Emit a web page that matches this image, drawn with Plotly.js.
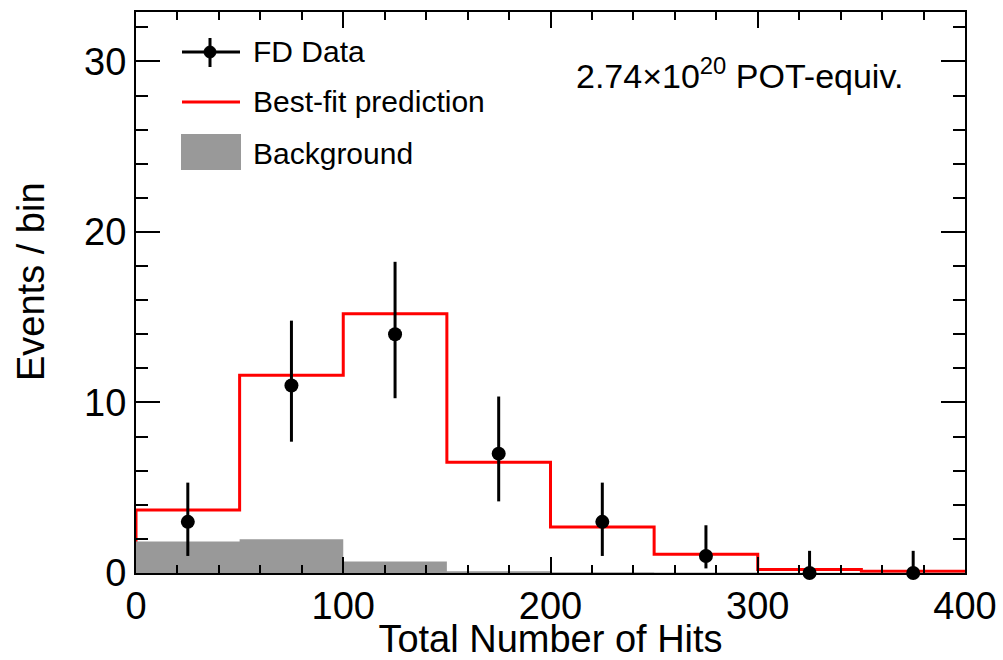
<!DOCTYPE html>
<html>
<head>
<meta charset="utf-8">
<script src="https://cdn.plot.ly/plotly-3.0.1.min.js"></script>
<style>html,body{margin:0;padding:0;background:#fff}#chart{width:1003px;height:660px}</style>
</head>
<body>
<div id="chart"></div>
<script>
// Bin edges (Total Number of Hits)
const binEdges = [0, 50, 100, 150, 200, 250, 300, 350, 400];
// Best-fit prediction per bin
const predVals = [3.7, 11.6, 15.2, 6.5, 2.7, 1.1, 0.2, 0.1];
// Background per bin
const bkgVals = [1.85, 1.98, 0.68, 0.1, 0.05, 0.03, 0.02, 0.01];
// FD data: bin centres, counts, asymmetric errors
const dataX = [25, 75, 125, 175, 225, 275, 325, 375];
const dataY = [3, 11, 14, 7, 3, 1, 0, 0];
const errUp = [2.3, 3.8, 4.25, 3.35, 2.3, 1.8, 1.3, 1.3];
const errDown = [2.0, 3.3, 3.75, 2.8, 2.0, 0.73, 0, 0];

const lastPred = predVals[predVals.length - 1];
const predLineX = [binEdges[0]].concat(binEdges);
const predLineY = [0].concat(predVals, [lastPred]);
const bkgX = binEdges.slice();
const bkgY = bkgVals.concat([bkgVals[bkgVals.length - 1]]);

const FONT = 'Liberation Sans, Arial, Helvetica, sans-serif';

const traces = [
  {
    type: 'scatter', mode: 'lines', name: 'Best-fit prediction',
    x: predLineX, y: predLineY,
    line: {shape: 'hv', color: '#ff0000', width: 3},
    hoverinfo: 'skip', showlegend: false
  },
  {
    type: 'scatter', mode: 'lines', name: 'Background',
    x: bkgX, y: bkgY,
    line: {shape: 'hv', color: 'rgba(0,0,0,0)', width: 0},
    fill: 'tozeroy', fillcolor: '#999999',
    hoverinfo: 'skip', showlegend: false
  },
  {
    type: 'scatter', mode: 'markers', name: 'FD Data',
    x: dataX, y: dataY,
    marker: {color: '#000000', size: 14},
    error_y: {type: 'data', symmetric: false, array: errUp, arrayminus: errDown,
              color: '#000000', thickness: 3, width: 0},
    cliponaxis: false, showlegend: false
  }
];

const layout = {
  width: 1003, height: 660,
  paper_bgcolor: '#ffffff', plot_bgcolor: '#ffffff',
  margin: {l: 136, r: 38, t: 12, b: 87, pad: 0},
  font: {family: FONT, color: '#000000'},
  showlegend: false,
  xaxis: {
    range: [0, 400], showgrid: false, zeroline: false,
    showline: true, linecolor: '#000000', linewidth: 2, mirror: 'allticks',
    ticks: 'inside', ticklen: 16, tickwidth: 2, tickcolor: '#000000',
    dtick: 100, tick0: 0,
    minor: {dtick: 20, ticks: 'inside', ticklen: 8, tickwidth: 2, tickcolor: '#000000', showgrid: false},
    tickfont: {family: FONT, size: 38, color: '#000000'},
    ticklabelstandoff: -2,
    title: {text: 'Total Number of Hits', font: {family: FONT, size: 38, color: '#000000'}, standoff: 0}
  },
  yaxis: {
    range: [0, 32.9], showgrid: false, zeroline: false,
    showline: true, linecolor: '#000000', linewidth: 2, mirror: 'allticks',
    ticks: 'inside', ticklen: 24, tickwidth: 2, tickcolor: '#000000',
    dtick: 10, tick0: 0,
    minor: {dtick: 2, ticks: 'inside', ticklen: 12, tickwidth: 2, tickcolor: '#000000', showgrid: false},
    tickfont: {family: FONT, size: 38, color: '#000000'},
    ticklabelstandoff: 0
  },
  shapes: [
    // legend: FD Data symbol
    {type: 'line', xref: 'paper', yref: 'paper', x0: 46/829, x1: 104/829, y0: (573-52)/561, y1: (573-52)/561, line: {color: '#000', width: 3}},
    {type: 'line', xref: 'paper', yref: 'paper', x0: 74/829, x1: 74/829, y0: (573-38)/561, y1: (573-67)/561, line: {color: '#000', width: 3}},
    {type: 'circle', xref: 'paper', yref: 'paper', x0: 68/829, x1: 80/829, y0: (573-46)/561, y1: (573-58)/561, fillcolor: '#000', line: {color: '#000', width: 1}},
    // legend: prediction
    {type: 'line', xref: 'paper', yref: 'paper', x0: 46/829, x1: 104/829, y0: (573-102)/561, y1: (573-102)/561, line: {color: '#ff0000', width: 3}},
    // legend: background
    {type: 'rect', xref: 'paper', yref: 'paper', x0: 45/829, x1: 105/829, y0: (573-134)/561, y1: (573-170)/561, fillcolor: '#999999', line: {width: 0}}
  ],
  annotations: [
    {xref: 'paper', yref: 'paper', x: (31-136)/829, y: (573-282)/561, xanchor: 'center', yanchor: 'middle', showarrow: false,
     textangle: -90, text: 'Events / bin', font: {family: FONT, size: 38, color: '#000'}},
    {xref: 'paper', yref: 'paper', x: 115/829, y: (573-52)/561, xanchor: 'left', yanchor: 'middle', showarrow: false,
     text: 'FD Data', font: {family: FONT, size: 30, color: '#000'}},
    {xref: 'paper', yref: 'paper', x: 115/829, y: (573-102)/561, xanchor: 'left', yanchor: 'middle', showarrow: false,
     text: 'Best-fit prediction', font: {family: FONT, size: 30, color: '#000'}},
    {xref: 'paper', yref: 'paper', x: 115/829, y: (573-153)/561, xanchor: 'left', yanchor: 'middle', showarrow: false,
     text: 'Background', font: {family: FONT, size: 30, color: '#000'}},
    {xref: 'paper', yref: 'paper', x: 438/829, y: (573-74)/561, xanchor: 'left', yanchor: 'middle', showarrow: false,
     text: '2.74×10<sup>20</sup> POT-equiv.', font: {family: FONT, size: 34, color: '#000'}}
  ]
};

Plotly.newPlot('chart', traces, layout, {staticPlot: true, displayModeBar: false});
</script>
</body>
</html>
